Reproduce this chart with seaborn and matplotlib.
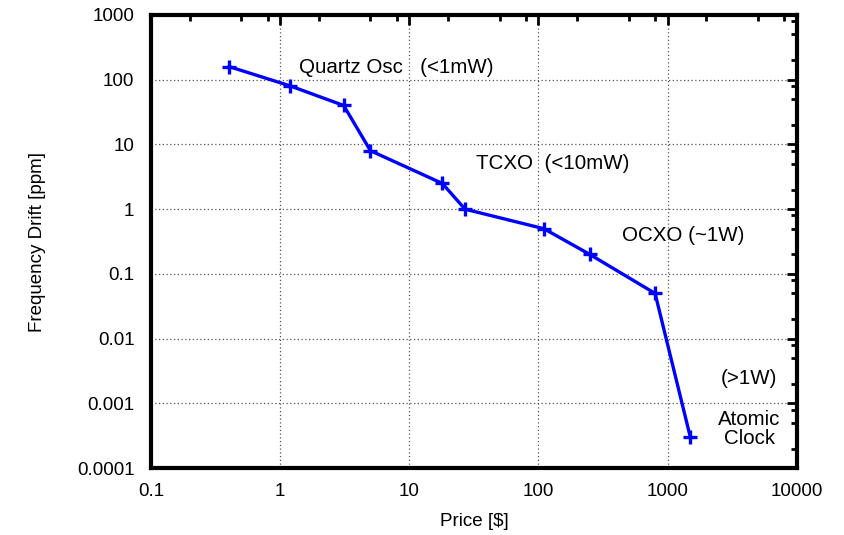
import matplotlib
matplotlib.use("Agg")
import matplotlib.pyplot as plt
import matplotlib.ticker as mticker
import seaborn as sns
import pandas as pd

# data
price = [0.4, 1.2, 3.1, 5, 18, 27, 110, 250, 800, 1500]
drift = [160, 80, 40, 8, 2.5, 1, 0.5, 0.2, 0.05, 0.0003]
x_ticks = [0.1, 1, 10, 100, 1000, 10000]
y_ticks = [0.0001, 0.001, 0.01, 0.1, 1, 10, 100, 1000]
labels = ["Quartz Osc   (<1mW)", "TCXO  (<10mW)", "OCXO (~1W)", "(>1W)", "Atomic\nClock"]
label_x = [1.4, 33, 440, 2600, 4300]
label_y = [155, 5.1, 0.39, 0.0024, 0.0004]

df = pd.DataFrame({"price": price, "drift": drift})

sns.set_style("white")
plt.rcParams["font.family"] = ["Liberation Sans", "DejaVu Sans"]
plt.rcParams["text.color"] = "black"
plt.rcParams["axes.labelcolor"] = "black"

fig = plt.figure(figsize=(8.44, 5.35), dpi=100)
ax = fig.add_axes([0.179, 0.125, 0.765, 0.847])

sns.lineplot(data=df, x="price", y="drift", ax=ax, color="#0000ff", linewidth=2.4,
             marker="+", markersize=10, markeredgewidth=2.4,
             markeredgecolor="#0000ff", sort=False)

ax.set_xscale("log")
ax.set_yscale("log")
ax.set_xlim(0.1, 10000)
ax.set_ylim(0.0001, 1000)

fmt = mticker.FuncFormatter(lambda v, p: "%g" % v)
ax.xaxis.set_major_locator(mticker.FixedLocator(x_ticks))
ax.yaxis.set_major_locator(mticker.FixedLocator(y_ticks))
ax.xaxis.set_major_formatter(fmt)
ax.yaxis.set_major_formatter(fmt)
ax.xaxis.set_minor_locator(mticker.LogLocator(subs=[2, 5, 8]))
ax.yaxis.set_minor_locator(mticker.LogLocator(subs=[2, 5, 8]))
ax.xaxis.set_minor_formatter(mticker.NullFormatter())
ax.yaxis.set_minor_formatter(mticker.NullFormatter())

ax.tick_params(which="both", direction="in", top=True, right=True, width=2, colors="black",
               labelsize=13.5)
ax.tick_params(axis="x", which="major", pad=11)
ax.tick_params(axis="y", which="major", pad=12)
ax.tick_params(which="major", length=7)
ax.tick_params(which="minor", length=4)

ax.grid(True, which="major", linestyle=(0, (1, 2)), color="#555555", linewidth=0.9)
for s in ax.spines.values():
    s.set_linewidth(3)
    s.set_color("black")

ax.set_xlabel("Price [$]", fontsize=13.5, labelpad=9)
ax.set_ylabel("Frequency Drift [ppm]", fontsize=13.5, labelpad=22)

for t, lx, ly in zip(labels, label_x, label_y):
    ha = "center" if "\n" in t else "left"
    ax.text(lx, ly, t, fontsize=14.8, ha=ha, va="center", linespacing=1.0)

fig.savefig("out.png", dpi=100)
